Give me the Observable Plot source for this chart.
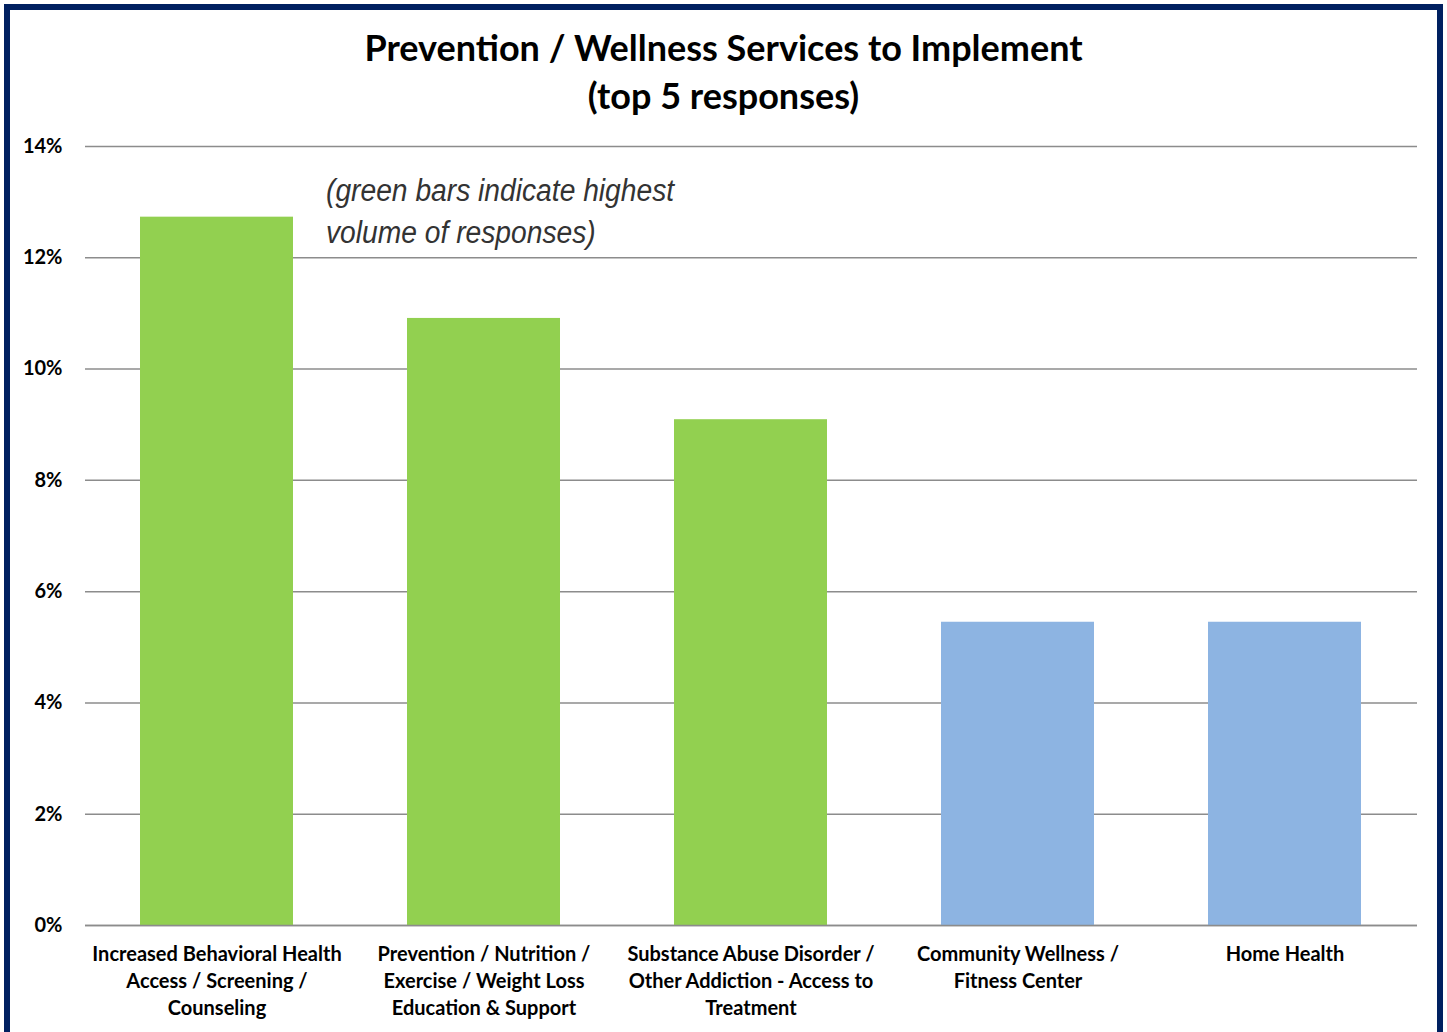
<!DOCTYPE html>
<html>
<head>
<meta charset="utf-8">
<script src="https://cdn.jsdelivr.net/npm/d3@7"></script>
<script src="https://cdn.jsdelivr.net/npm/@observablehq/plot@0.6"></script>
<style>
  html, body { margin: 0; padding: 0; background: #fff; }
  #wrap { position: relative; width: 1447px; height: 1032px; overflow: hidden; font-family: Lato, "Open Sans", sans-serif; }
  #frame { position: absolute; left: 4px; top: 4px; width: 1427px; height: 1030px; border: 6px solid #002060; box-sizing: content-box; pointer-events: none; }
  #title { position: absolute; left: 0; width: 1447px; top: 23px; text-align: center; font-weight: 700; font-size: 36px; line-height: 48px; color: #000; }
  #note { position: absolute; left: 326px; top: 170px; font-family: "Liberation Sans", Arial, sans-serif; font-style: italic; font-size: 31px; line-height: 42px; color: #333; transform: scaleX(0.91); transform-origin: 0 0; white-space: nowrap; }
  #chart { position: absolute; left: 0; top: 0; }
</style>
</head>
<body>
<div id="wrap">
  <div id="chart"></div>
  <div id="title">Prevention / Wellness Services to Implement<br>(top 5 responses)</div>
  <div id="note">(green bars indicate highest<br>volume of responses)</div>
  <div id="frame"></div>
</div>
<script>
const categories = [
  "Increased Behavioral Health\nAccess / Screening /\nCounseling",
  "Prevention / Nutrition /\nExercise / Weight Loss\nEducation & Support",
  "Substance Abuse Disorder /\nOther Addiction - Access to\nTreatment",
  "Community Wellness /\nFitness Center",
  "Home Health"
];
const values = [12.73, 10.91, 9.09, 5.45, 5.45];
const highlight = [true, true, true, false, false];
const yTicks = [0, 2, 4, 6, 8, 10, 12, 14];

const data = categories.map((c, i) => ({category: c, value: values[i], group: highlight[i] ? "high" : "other"}));

const chart = Plot.plot({
  width: 1447,
  height: 1032,
  marginLeft: 85,
  marginRight: 30,
  marginTop: 146,
  marginBottom: 107,
  style: {fontFamily: "Lato, 'Open Sans', sans-serif", background: "transparent", overflow: "visible"},
  x: {domain: categories, paddingInner: 0.426, paddingOuter: 0.2, label: null},
  y: {domain: [0, 14], label: null},
  color: {domain: ["high", "other"], range: ["#92D050", "#8DB4E2"]},
  marks: [
    Plot.gridY(yTicks, {stroke: "#8c8c8c", strokeOpacity: 1, strokeWidth: 1.5}),
    Plot.barY(data, {x: "category", y: "value", fill: "group"}),
    Plot.ruleY([0], {stroke: "#8c8c8c", strokeWidth: 1.5}),
    Plot.axisY(yTicks, {tickSize: 0, tickPadding: 23, tickFormat: d => d + "%", fontSize: 20, fontWeight: 700, fill: "#000"}),
    Plot.axisX({tickSize: 0, tickPadding: 16, fontSize: 20, fontWeight: 700, fill: "#000", lineHeight: 1.35, lineAnchor: "top"})
  ]
});
document.getElementById("chart").appendChild(chart);
</script>
</body>
</html>
